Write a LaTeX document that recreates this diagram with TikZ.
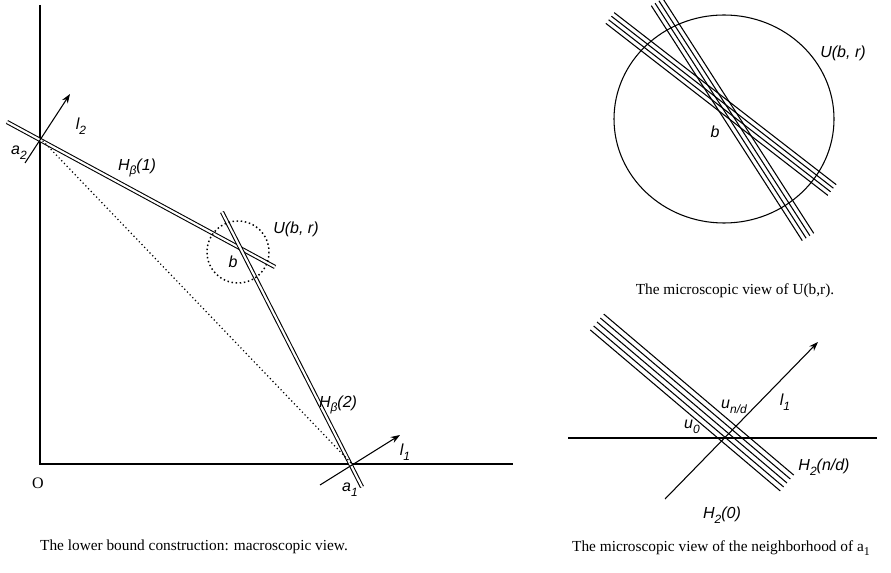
\documentclass[tikz,border=0pt]{standalone}
\usepackage{fontspec}
\setmainfont{Liberation Serif}
\newfontfamily\labfont{Liberation Sans}
\usetikzlibrary{calc,arrows.meta}
\newcommand{\sbx}[1]{\raisebox{-0.55ex}{\small #1}}
\tikzset{
  axisline/.style={line width=0.9pt},
  dbl/.style={double, double distance=1.6pt, line width=0.8pt},
  thinline/.style={line width=0.8pt},
  arr/.style={line width=0.8pt, -{Stealth[length=7pt,width=5pt]}},
  lab/.style={inner sep=1pt, font=\labfont\itshape\fontsize{12}{14}\selectfont},
  captxt/.style={inner sep=1pt, font=\fontsize{11.5}{13}\selectfont},
}
\begin{document}
\begin{tikzpicture}[x=0.75pt,y=-0.75pt]
\useasboundingbox (0,0) rectangle (891,573);
% ---------- left: macroscopic view ----------
\coordinate (ytop) at (40,5);
\coordinate (O) at (40,464);
\coordinate (xend) at (513,464);
\draw[axisline] (ytop) -- (O) -- (xend);
\node[captxt, font=\fontsize{12}{14}\selectfont] (Olab) at (38,483) {O};
\coordinate (a2) at (40,138);
\coordinate (a1) at (352,464);
\coordinate (h1s) at (7,122);
\coordinate (h1e) at (275,267);
\coordinate (h2s) at (222,212);
\coordinate (h2e) at (362,487);
\draw[dbl] (h1s) -- (h1e);
\draw[dbl] (h2s) -- (h2e);
\draw[dotted, line width=0.9pt] (a2) -- (a1);
\coordinate (l2s) at (25,163);
\coordinate (l2e) at (70,94);
\draw[arr] (l2s) -- (l2e);
\coordinate (l1s) at (320,485);
\coordinate (l1e) at (400,435);
\draw[arr] (l1s) -- (l1e);
\coordinate (bc) at (238,252);
\draw[dotted, line width=1.1pt] (bc) circle[radius=31];
\node[lab] (a2lab) at (19,153) {a\sbx{2}};
\node[lab] (l2lab) at (81,126) {l\sbx{2}};
\node[lab] (H1lab) at (137,168) {H\sbx{β}(1)};
\node[lab] (blab) at (233,262) {b};
\node[lab] (Ulab) at (296,229) {U(b, r)};
\node[lab] (H2lab) at (338,405) {H\sbx{β}(2)};
\node[lab] (l1lab) at (405,452) {l\sbx{1}};
\node[lab] (a1lab) at (350,490) {a\sbx{1}};
\node[captxt] (capL) at (194,547) {The lower bound construction: macroscopic view.};
% ---------- right top: U(b,r) ----------
\coordinate (C) at (724,119);
\draw[line width=0.8pt] (C) ellipse[x radius=110, y radius=104];
\coordinate (p1s) at (610,18);
\coordinate (p1e) at (832,190);
\coordinate (p2s) at (657,2);
\coordinate (p2e) at (808,237);
\foreach \k in {-1.5,-0.5,0.5,1.5}{
  \pgfmathsetmacro{\dd}{\k*3.4}
  \pgfmathsetmacro{\de}{-\k*3.4}
  \draw[thinline] ($(p1s)!\dd pt!90:(p1e)$) -- ($(p1e)!\de pt!90:(p1s)$);
  \draw[thinline] ($(p2s)!\dd pt!90:(p2e)$) -- ($(p2e)!\de pt!90:(p2s)$);
}
\node[lab] (blab2) at (715,132) {b};
\node[lab] (Ulab2) at (843,53) {U(b, r)};
\node[captxt] (capRT) at (735,291) {The microscopic view of U(b,r).};
% ---------- right bottom: neighbourhood of a1 ----------
\coordinate (hs) at (568,438);
\coordinate (he) at (877,438);
\draw[axisline] (hs) -- (he);
\coordinate (m1s) at (665,499);
\coordinate (m1e) at (818,342);
\draw[arr] (m1s) -- (m1e);
\coordinate (q1s) at (597,322);
\coordinate (q1e) at (787,483);
\foreach \k in {-2,-1,0,1,2}{
  \pgfmathsetmacro{\dd}{\k*3.9}
  \pgfmathsetmacro{\de}{-\k*3.9}
  \draw[thinline] ($(q1s)!\dd pt!90:(q1e)$) -- ($(q1e)!\de pt!90:(q1s)$);
}
\node[lab] (u0lab) at (692,427) {u\sbx{0}};
\node[lab] (unlab) at (734,407) {u\sbx{n/d}};
\node[lab] (l1lab2) at (785,402) {l\sbx{1}};
\node[lab] (H2nd) at (824,467) {H\sbx{2}(n/d)};
\node[lab] (H20) at (722,515) {H\sbx{2}(0)};
\node[captxt] (capRB) at (721,548) {The microscopic view of the neighborhood of a\sbx{1}};
\end{tikzpicture}
\end{document}
